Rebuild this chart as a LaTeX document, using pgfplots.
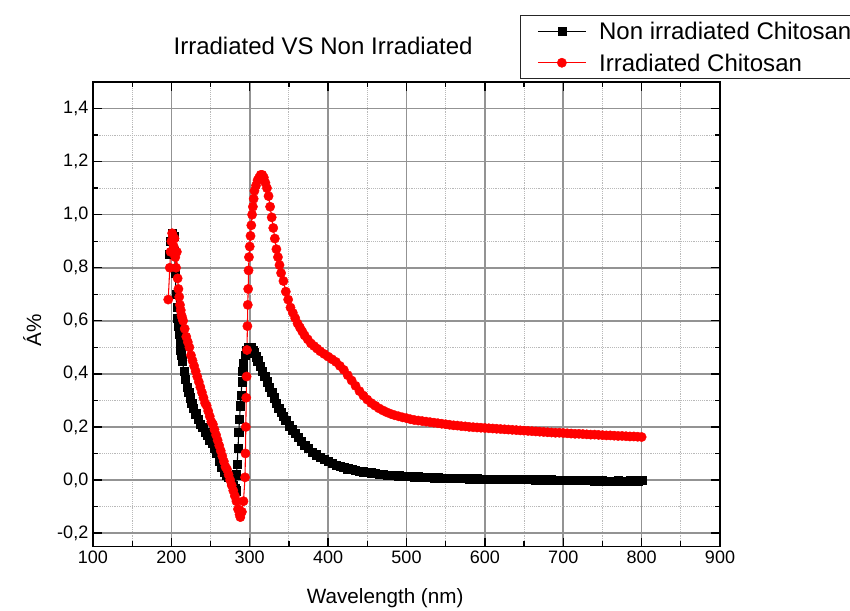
\documentclass[border=0pt]{standalone}
\usepackage{fontspec}
\setmainfont{Liberation Sans}
\usepackage{pgfplots}
\pgfplotsset{compat=1.18}

\begin{document}
\begin{tikzpicture}
\begin{axis}[
  scale only axis, width=470pt, height=348pt,
  xmin=100, xmax=900, ymin=-0.25, ymax=1.5,
  xtick={100,200,...,900},
  ytick={-0.2,0,0.2,0.4,0.6,0.8,1.0,1.2,1.4},
  minor x tick num=1, minor y tick num=1,
  grid=both,
  major grid style={draw=gray!85, line width=1.15pt},
  minor grid style={draw=gray!55, densely dotted, line width=0.75pt},
  tick align=inside, major tick length=6.5pt, minor tick length=4pt,
  tick style={black, line width=1pt},
  axis line style={black, line width=1.1pt},
  /pgf/number format/assume math mode=true,
  yticklabel style={/pgf/number format/.cd, fixed, fixed zerofill, precision=1, use comma},
  xticklabel style={/pgf/number format/.cd, fixed, 1000 sep={}},
  tick label style={font=\fontsize{13.5}{15}\selectfont},
  title={Irradiated VS Non Irradiated},
  title style={at={(axis description cs:0.367,1.06)}, anchor=center, font=\fontsize{18}{20}\selectfont},
  xlabel={Wavelength (nm)},
  xlabel style={at={(axis description cs:0.466,-0.112)}, anchor=center, font=\fontsize{15.5}{17}\selectfont},
  ylabel={Á\%},
  ylabel style={at={(axis description cs:-0.097,0.466)}, anchor=center, font=\fontsize{15.5}{17}\selectfont},
  legend style={at={(axis description cs:0.681,1.1444)}, anchor=north west,
    draw=black!85, line width=1pt, fill=white,
    font=\fontsize{18}{21}\selectfont, inner xsep=0pt, inner ysep=3.5pt, row sep=7.5pt,
    nodes={inner xsep=0.5pt, inner ysep=0pt}},
  legend cell align=left,
  legend image code/.code={
    \path (-12.5pt,0pt) (45pt,0pt);
    \draw[#1, mark repeat=2, mark phase=2] plot coordinates {(0pt,0pt) (18pt,0pt) (36pt,0pt)};
  },
]
\addplot[black, line width=0.8pt, mark=square*, mark size=3.1pt, mark options={solid, line width=0.3pt}] coordinates {
(197,0.85) (199,0.90) (201,0.93) (203,0.92) (204,0.86) (205,0.78) (206,0.70) (207,0.65)
(208,0.61) (209,0.58) (210,0.55) (211,0.52) (212,0.49) (213,0.47) (214,0.45) (216,0.41)
(218,0.38) (220,0.35) (222,0.33) (224,0.31) (226,0.29) (228,0.27) (231,0.25) (234,0.23)
(237,0.21) (240,0.20) (243,0.18) (246,0.17) (249,0.15) (252,0.14) (255,0.12) (258,0.10)
(261,0.07) (264,0.05) (267,0.03) (270,0.02) (273,0.01) (276,0.00) (279,-0.02) (281,-0.03)
(282,-0.04) (283,0.02) (284,0.06) (285,0.12) (286,0.18) (287,0.23) (288,0.28) (289,0.32)
(290,0.37) (291,0.41) (292,0.44) (294,0.47) (296,0.49) (298,0.50) (300,0.50) (302,0.50)
(304,0.49) (306,0.48) (308,0.465) (310,0.45) (313,0.43) (316,0.41) (319,0.39) (322,0.37)
(325,0.35) (328,0.33) (331,0.31) (334,0.29) (337,0.27) (340,0.255) (343,0.24) (346,0.225)
(350,0.205) (354,0.19) (358,0.175) (362,0.16) (366,0.145) (370,0.13) (375,0.12) (380,0.105)
(385,0.095) (390,0.085) (395,0.078) (400,0.07) (405,0.063) (410,0.057) (415,0.052) (420,0.047)
(425,0.043) (430,0.040) (435,0.037) (440,0.034) (445,0.031) (450,0.029) (455,0.027) (460,0.025)
(465,0.023) (470,0.021) (475,0.019) (480,0.018) (485,0.017) (490,0.016) (495,0.015) (500,0.014)
(505,0.013) (510,0.012) (515,0.012) (520,0.011) (525,0.010) (530,0.010) (535,0.009) (540,0.009)
(545,0.008) (550,0.008) (555,0.007) (560,0.007) (565,0.006) (570,0.006) (575,0.006) (580,0.005)
(585,0.005) (590,0.005) (595,0.004) (600,0.004) (605,0.004) (610,0.004) (615,0.003) (620,0.003)
(625,0.003) (630,0.003) (635,0.003) (640,0.002) (645,0.002) (650,0.002) (655,0.002) (660,0.002)
(665,0.001) (670,0.001) (675,0.001) (680,0.001) (685,0.001) (690,0.000) (695,0.000) (700,0.000)
(705,0.000) (710,-0.001) (715,-0.001) (720,-0.001) (725,-0.002) (730,-0.002) (735,-0.002) (740,-0.003)
(745,-0.003) (750,-0.003) (755,-0.004) (760,-0.004) (765,-0.004) (770,-0.003) (775,-0.004) (780,-0.004)
(785,-0.003) (790,-0.003) (795,-0.003) (800,-0.002)
};
\addlegendentry{\strut Non irradiated Chitosan}
\addplot[red, line width=0.8pt, mark=*, mark size=3.5pt, mark options={solid, line width=0.3pt}] coordinates {
(196,0.68) (198,0.80) (199,0.86) (200,0.90) (201,0.93) (202,0.92) (203,0.88) (204,0.91)
(205,0.84) (206,0.80) (207,0.86) (208,0.76) (209,0.72) (210,0.69) (211,0.66) (212,0.64)
(213,0.62) (214,0.61) (215,0.60) (217,0.57) (219,0.54) (221,0.52) (223,0.50) (225,0.47)
(227,0.45) (229,0.43) (231,0.41) (233,0.39) (235,0.37) (237,0.35) (239,0.33) (241,0.31)
(243,0.29) (245,0.28) (247,0.26) (249,0.24) (251,0.22) (253,0.21) (255,0.19) (257,0.17)
(259,0.15) (261,0.13) (263,0.11) (265,0.09) (267,0.07) (269,0.05) (271,0.04) (273,0.02)
(275,0.00) (277,-0.02) (279,-0.04) (281,-0.06) (283,-0.08) (285,-0.11) (287,-0.13) (288,-0.14)
(290,-0.12) (292,-0.08) (294,0.01) (294.5,0.10) (295,0.20) (295.5,0.31) (296,0.39) (296.5,0.49)
(297,0.58) (297.5,0.66) (298,0.72) (298.5,0.79) (299,0.84) (300,0.88) (301,0.92) (302,0.96)
(303,1.00) (304,1.03) (305,1.06) (306,1.09) (308,1.11) (310,1.13) (312,1.14) (314,1.15)
(316,1.15) (318,1.14) (320,1.12) (322,1.10) (324,1.07) (326,1.03) (328,0.99) (330,0.95)
(332,0.91) (334,0.87) (336,0.84) (338,0.81) (340,0.78) (343,0.75) (346,0.71) (349,0.68)
(352,0.65) (355,0.63) (358,0.61) (361,0.59) (364,0.575) (367,0.56) (370,0.545) (374,0.53)
(378,0.515) (382,0.505) (386,0.495) (390,0.485) (395,0.475) (400,0.465) (405,0.455) (410,0.445)
(415,0.43) (420,0.415) (425,0.395) (430,0.375) (435,0.355) (440,0.335) (445,0.318) (450,0.303)
(455,0.29) (460,0.28) (465,0.27) (470,0.262) (475,0.255) (480,0.249) (485,0.244) (490,0.240)
(495,0.236) (500,0.233) (505,0.229) (510,0.226) (515,0.224) (520,0.222) (525,0.220) (530,0.218)
(535,0.216) (540,0.214) (545,0.212) (550,0.210) (555,0.208) (560,0.206) (565,0.205) (570,0.203)
(575,0.202) (580,0.200) (585,0.199) (590,0.198) (595,0.197) (600,0.196) (605,0.195) (610,0.194)
(615,0.193) (620,0.192) (625,0.191) (630,0.190) (635,0.189) (640,0.188) (645,0.187) (650,0.186)
(655,0.185) (660,0.184) (665,0.183) (670,0.182) (675,0.181) (680,0.180) (685,0.179) (690,0.178)
(695,0.178) (700,0.177) (705,0.176) (710,0.175) (715,0.174) (720,0.174) (725,0.173) (730,0.172)
(735,0.171) (740,0.171) (745,0.170) (750,0.169) (755,0.168) (760,0.168) (765,0.167) (770,0.166)
(775,0.166) (780,0.165) (785,0.164) (790,0.164) (795,0.163) (800,0.162)
};
\addlegendentry{\strut Irradiated Chitosan}
\coordinate (bbsw) at (axis description cs:-0.1483,-0.1379);
\coordinate (bbne) at (axis description cs:1.2073,1.1767);
\end{axis}
\pgfresetboundingbox
\path[use as bounding box] (bbsw) rectangle (bbne);
\end{tikzpicture}
\end{document}
